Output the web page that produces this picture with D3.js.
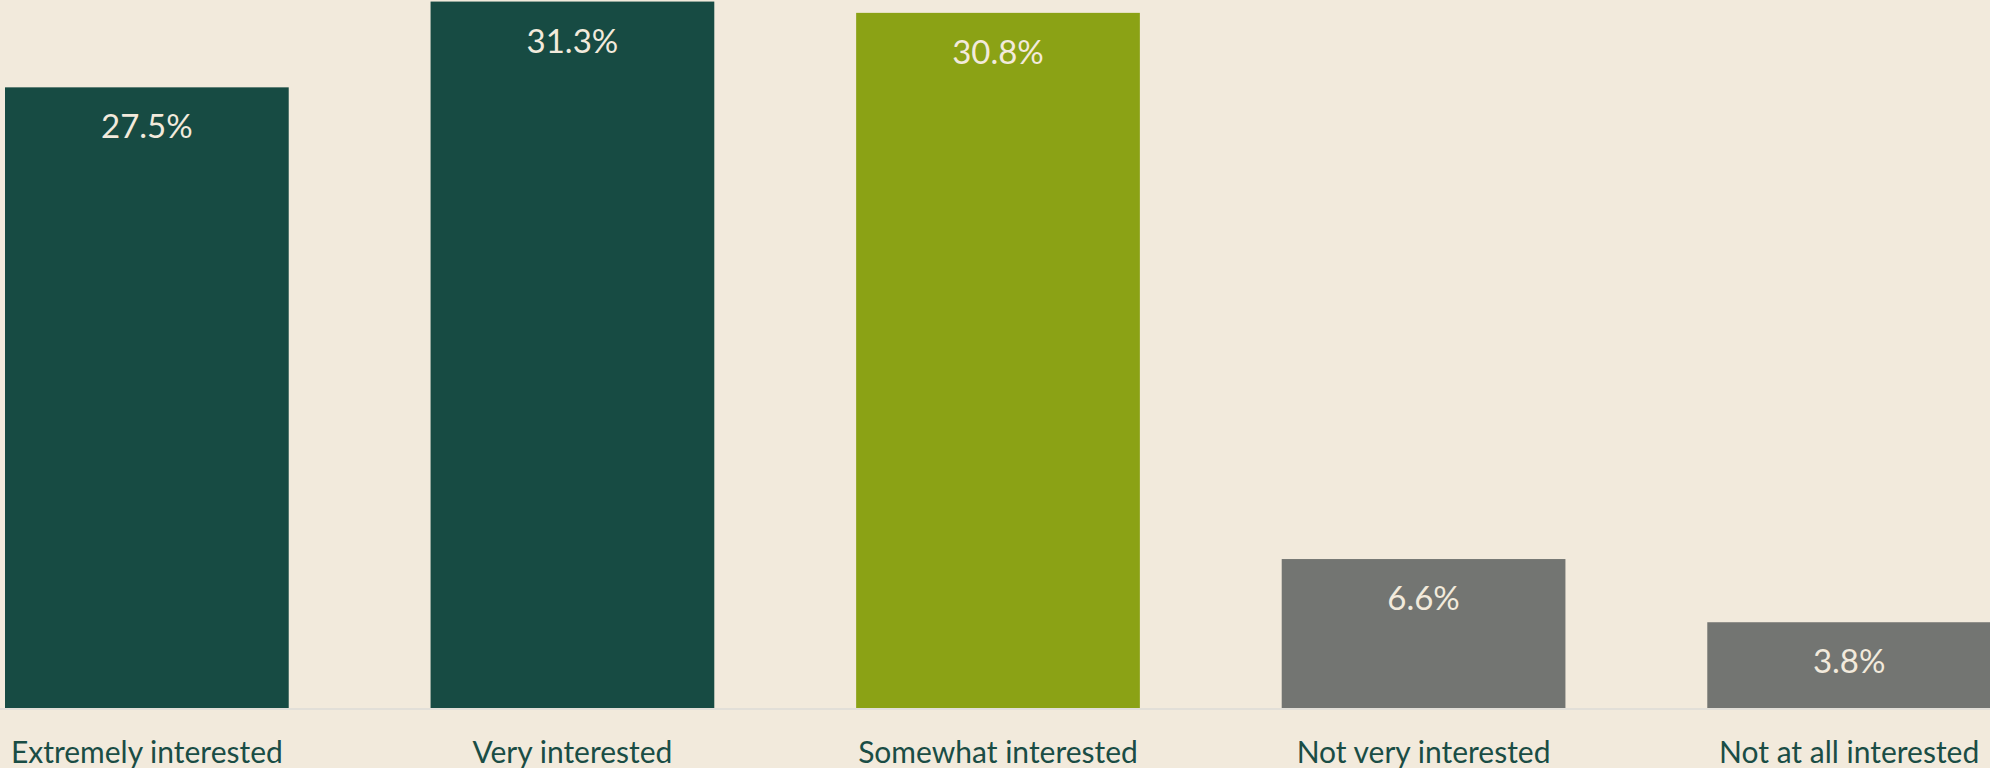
<!DOCTYPE html>
<html>
<head>
<meta charset="utf-8">
<script src="https://cdn.jsdelivr.net/npm/d3@7/dist/d3.min.js"></script>
<style>
  html, body { margin: 0; padding: 0; background: #f2eadc; overflow: hidden; }
  svg { display: block; }
</style>
</head>
<body>
<svg id="chart" width="1990" height="768"></svg>
<script>
// Survey responses: level of interest
const categories = ["Extremely interested", "Very interested", "Somewhat interested", "Not very interested", "Not at all interested"];
const values = [27.5, 31.3, 30.8, 6.6, 3.8];
const barColors = ["#174b43", "#174b43", "#8ba215", "#737572", "#737572"];

const W = 1990, H = 768;
const baseY = 708;

const svg = d3.select("#chart");
svg.append("rect").attr("width", W).attr("height", H).attr("fill", "#f2eadc");

const x = d3.scaleBand()
  .domain(categories)
  .range([5, 1991])
  .paddingInner(1 / 3)
  .paddingOuter(0);

const y = d3.scaleLinear()
  .domain([0, 31.37])
  .range([baseY, 0]);

const data = categories.map((c, i) => ({ cat: c, value: values[i], color: barColors[i] }));

// bars
svg.append("g").selectAll("rect")
  .data(data)
  .join("rect")
  .attr("x", d => x(d.cat))
  .attr("y", d => y(d.value))
  .attr("width", x.bandwidth())
  .attr("height", d => y(0) - y(d.value))
  .attr("fill", d => d.color);

// baseline
svg.append("line")
  .attr("x1", 0).attr("x2", W)
  .attr("y1", y(0) + 1).attr("y2", y(0) + 1)
  .attr("stroke", "#e2dfd8")
  .attr("stroke-width", 2);

// value labels inside the bars
svg.append("g").selectAll("text")
  .data(data)
  .join("text")
  .attr("x", d => x(d.cat) + x.bandwidth() / 2)
  .attr("y", d => y(d.value) + 51)
  .attr("text-anchor", "middle")
  .attr("font-family", "Lato, 'Open Sans', sans-serif")
  .attr("font-size", 33)
  .attr("fill", "#f2eadc")
  .text(d => d.value.toFixed(1) + "%");

// category axis labels
const xAxis = d3.axisBottom(x).tickSize(0).tickPadding(0);
const gx = svg.append("g")
  .attr("transform", `translate(0, ${baseY})`)
  .call(xAxis);
gx.select(".domain").remove();
gx.selectAll("text")
  .attr("y", 55)
  .attr("dy", 0)
  .attr("font-family", "Lato, 'Open Sans', sans-serif")
  .attr("font-size", 30)
  .attr("fill", "#1a4d45");
</script>
</body>
</html>
